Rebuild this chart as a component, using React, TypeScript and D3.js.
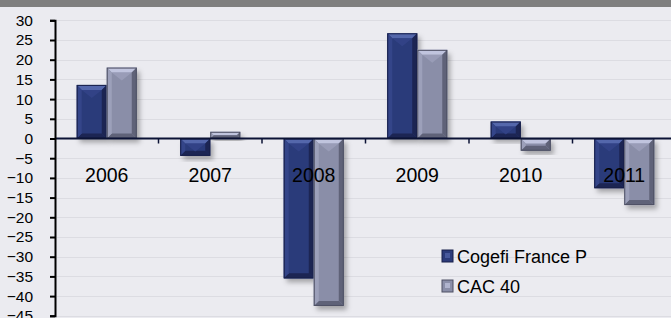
import { useEffect, useRef } from "react";
import * as d3 from "d3";

const years = ["2006", "2007", "2008", "2009", "2010", "2011"];
const seriesNames = ["Cogefi France P", "CAC 40"];
const cogefi = [13.6, -4.4, -35.5, 26.7, 4.3, -12.6];
const cac40 = [18.0, 1.7, -42.5, 22.5, -3.1, -16.9];
const yTicks = [30, 25, 20, 15, 10, 5, 0, -5, -10, -15, -20, -25, -30, -35, -40, -45];

const palette = [
  { main: "#2c3b7a", light: "#5467ab", side: "#344589", dark: "#1c2553", edge: "#18204a" },
  { main: "#8a8ea8", light: "#c0c4de", side: "#9ca0ba", dark: "#5f6278", edge: "#4e5064" },
];

export default function App() {
  const svgRef = useRef<SVGSVGElement>(null);
  const width = 671;
  const height = 318;

  useEffect(() => {
    if (!svgRef.current) return;
    const svg = d3.select(svgRef.current);
    svg.selectAll("*").remove();

    const defs = svg.append("defs");
    const shadow = defs.append("filter").attr("id", "shadow")
      .attr("x", "-30%").attr("y", "-30%").attr("width", "160%").attr("height", "160%");
    shadow.append("feDropShadow")
      .attr("dx", 3).attr("dy", 4).attr("stdDeviation", 2.5)
      .attr("flood-color", "#000").attr("flood-opacity", 0.3);

    // background + top band
    svg.append("rect").attr("width", width).attr("height", height).attr("fill", "#ebebf0");
    svg.append("rect").attr("width", width).attr("height", 7).attr("fill", "#7f7f7f");

    const x = d3.scaleBand<string>()
      .domain(years)
      .range([55, 676])
      .paddingInner(0.42)
      .paddingOuter(0.21);
    const xs = d3.scaleBand<string>().domain(seriesNames).range([0, x.bandwidth()]);
    const y = d3.scaleLinear().domain([-45, 30]).range([315.8, 20.3]);

    // gridlines
    svg.append("g")
      .selectAll("line")
      .data(yTicks.filter(t => t !== 0))
      .join("line")
      .attr("x1", 57).attr("x2", width)
      .attr("y1", d => Math.round(y(d)) + 0.5).attr("y2", d => Math.round(y(d)) + 0.5)
      .attr("stroke", "#dcdce2").attr("stroke-width", 1);

    // bars
    const data = years.map((yr, i) => ({ yr, vals: [cogefi[i], cac40[i]] }));
    const barsG = svg.append("g");
    data.forEach(d => {
      d.vals.forEach((v, si) => {
        const c = palette[si];
        const x0 = (x(d.yr) ?? 0) + (xs(seriesNames[si]) ?? 0);
        const w = xs.bandwidth();
        const top = Math.min(y(v), y(0));
        const bot = Math.max(y(v), y(0));
        const h = bot - top;
        const g = barsG.append("g");
        g.append("rect")
          .attr("x", x0).attr("y", top).attr("width", w).attr("height", h)
          .attr("fill", c.main).attr("filter", "url(#shadow)");
        const b = Math.min(5, h / 2);
        const x1 = x0 + w;
        // top bevel
        g.append("polygon")
          .attr("points", [[x0, top], [x1, top], [x1 - b, top + b], [x0 + b, top + b]].map(p => p.join(",")).join(" "))
          .attr("fill", c.light);
        // bottom bevel
        g.append("polygon")
          .attr("points", [[x0, bot], [x1, bot], [x1 - b, bot - b], [x0 + b, bot - b]].map(p => p.join(",")).join(" "))
          .attr("fill", c.dark);
        // left bevel
        g.append("polygon")
          .attr("points", [[x0, top], [x0 + b, top + b], [x0 + b, bot - b], [x0, bot]].map(p => p.join(",")).join(" "))
          .attr("fill", c.side);
        // right bevel
        g.append("polygon")
          .attr("points", [[x1, top], [x1 - b, top + b], [x1 - b, bot - b], [x1, bot]].map(p => p.join(",")).join(" "))
          .attr("fill", c.dark);
        // inner highlight wedge under the top bevel
        if (h > 14) {
          g.append("polygon")
            .attr("points", [[x0 + b, top + b], [x1 - b, top + b], [(x0 + x1) / 2, top + b + 8]].map(p => p.join(",")).join(" "))
            .attr("fill", c.side).attr("opacity", 0.8);
        }
        g.append("rect")
          .attr("x", x0 + 0.5).attr("y", top + 0.5).attr("width", w - 1).attr("height", Math.max(0, h - 1))
          .attr("fill", "none").attr("stroke", c.edge).attr("stroke-width", 1);
      });
    });

    // zero line with category ticks
    svg.append("line")
      .attr("x1", 55).attr("x2", width)
      .attr("y1", y(0)).attr("y2", y(0))
      .attr("stroke", "#0b1235").attr("stroke-width", 2);
    const boundaries = years.slice(1).map(yr => (x(yr) ?? 0) - x.step() * x.paddingInner() / 2);
    svg.append("g").selectAll("line")
      .data(boundaries)
      .join("line")
      .attr("x1", d => d).attr("x2", d => d)
      .attr("y1", y(0)).attr("y2", y(0) + 5)
      .attr("stroke", "#0b1235").attr("stroke-width", 1.5);

    // category labels
    svg.append("g").selectAll("text")
      .data(years)
      .join("text")
      .attr("x", d => (x(d) ?? 0) + x.bandwidth() / 2)
      .attr("y", 182)
      .attr("text-anchor", "middle")
      .attr("font-family", "Liberation Sans, Arial, sans-serif")
      .attr("font-size", 19.5)
      .attr("fill", "#000")
      .text(d => d);

    // y axis
    const yAxis = d3.axisLeft(y).tickValues(yTicks).tickSize(5).tickPadding(17).tickFormat(d3.format("d"));
    const ya = svg.append("g").attr("transform", "translate(55,0)").call(yAxis);
    ya.select(".domain").attr("stroke", "#000").attr("stroke-width", 2);
    ya.selectAll(".tick line").attr("stroke", "#000").attr("stroke-width", 2);
    ya.selectAll(".tick text")
      .attr("font-family", "Liberation Sans, Arial, sans-serif")
      .attr("font-size", 15.5)
      .attr("fill", "#000");

    // legend
    const legend = svg.append("g").attr("transform", "translate(442,250)");
    seriesNames.forEach((name, i) => {
      const c = palette[i];
      const row = legend.append("g").attr("transform", `translate(0,${i * 30})`);
      row.append("rect").attr("width", 11).attr("height", 12).attr("fill", c.main).attr("stroke", c.edge);
      row.append("rect").attr("x", 3).attr("y", 3).attr("width", 5).attr("height", 5).attr("fill", c.light).attr("opacity", 0.7);
      row.append("text")
        .attr("x", 15).attr("y", 12.5)
        .attr("font-family", "Liberation Sans, Arial, sans-serif")
        .attr("font-size", 18)
        .attr("fill", "#000")
        .text(name);
    });
  }, []);

  return (
    <svg
      ref={svgRef}
      width={width}
      height={height}
      style={{ position: "absolute", left: 0, top: 0, display: "block" }}
    />
  );
}
